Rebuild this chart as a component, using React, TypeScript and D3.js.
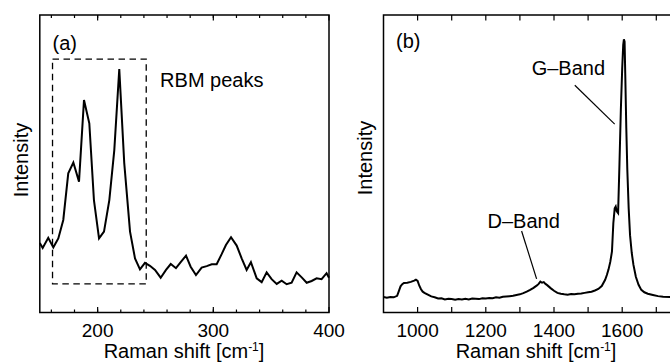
import React from "react";
import * as d3 from "d3";

// Panel (a): low-frequency Raman spectrum (RBM region)
const shiftA = [
  150, 152.5, 157.3, 161.7, 166, 170.3, 174.6, 179, 183.9, 188.2, 192.8, 196.8,
  201.2, 205.5, 210.1, 214.4, 218.7, 223, 228, 232.3, 236.6, 240.9, 245.2,
  249.6, 254.5, 259.1, 263.2, 267.7, 271.8, 276.4, 280.4, 285, 289.9, 294.3,
  298.6, 302.9, 307.2, 310.9, 315.3, 320.2, 324.5, 328.8, 332.5, 337.5, 341.8,
  346.1, 350.4, 354.8, 359.1, 363.4, 367.7, 372, 376.4, 380.7, 385, 389.3,
  393.6, 397.9, 400,
];
const intensityA = [
  23.4, 21.7, 25.1, 21.9, 24.9, 31.1, 46.8, 50.4, 44.0, 71.4, 63.6, 37.8,
  24.9, 27.2, 37.8, 54.6, 81.8, 50.2, 27.2, 18.2, 14.5, 16.7, 15.7,
  14.3, 11.7, 14.3, 16.3, 14.9, 16.9, 19.1, 15.4, 12.6, 15.1, 15.6,
  16.2, 16.2, 19.6, 22.7, 25.3, 22.5, 18.2, 14.3, 16.9, 11.5, 10.2,
  13.5, 11.2, 9.6, 10.7, 9.5, 10.0, 13.5, 11.8, 10.0, 10.6, 11.5,
  11.2, 13.2, 11.7,
];

// Panel (b): D and G band region
const shiftB = [
  900, 910, 920, 930, 940, 945, 950, 955, 960, 970, 980, 990, 995, 1000, 1005,
  1010, 1015, 1020, 1030, 1040, 1050, 1060, 1070, 1080, 1090, 1100, 1110, 1120,
  1130, 1140, 1150, 1160, 1170, 1180, 1190, 1200, 1210, 1220, 1230, 1240, 1250,
  1260, 1270, 1280, 1290, 1300, 1310, 1320, 1330, 1340, 1350, 1355, 1360, 1365,
  1370, 1375, 1380, 1390, 1400, 1410, 1420, 1430, 1440, 1450, 1460, 1470, 1480,
  1490, 1500, 1510, 1520, 1530, 1540, 1550, 1555, 1560, 1565, 1570, 1574, 1578,
  1581, 1584, 1588, 1592, 1596, 1600, 1603, 1605, 1607, 1609, 1612, 1615, 1619,
  1623, 1628, 1633, 1640, 1648, 1656, 1665, 1675, 1690, 1705, 1720, 1740, 1760,
  1780, 1800,
];
const intensityB = [
  5.2, 5.0, 5.2, 5.1, 5.6, 7.2, 8.8, 9.5, 9.9, 10.0, 10.3, 10.7, 11.0, 10.6, 9.0,
  7.8, 7.0, 6.6, 6.0, 5.4, 5.1, 4.7, 4.8, 4.4, 4.6, 4.5, 4.3, 4.5,
  4.4, 4.6, 4.4, 4.7, 4.6, 4.5, 4.8, 4.7, 4.9, 4.8, 5.1, 5.0, 5.3,
  5.4, 5.5, 5.6, 5.9, 6.1, 6.5, 7.0, 7.6, 8.3, 9.1, 9.6, 10.4, 10.0,
  10.2, 9.6, 9.2, 8.2, 7.3, 6.6, 6.3, 6.1, 6.0, 6.2, 6.1, 6.3, 6.4,
  6.6, 6.8, 7.0, 7.4, 7.9, 8.9, 11.0, 12.6, 14.5, 17.0, 20.5, 30.0, 35.0,
  35.6, 34.0, 33.4, 50.0, 68.0, 82.0, 90.0, 91.8, 91.0, 80.0, 62.0, 48.0, 35.0,
  26.0, 20.0, 16.0, 12.0, 9.3, 7.6, 6.8, 6.3, 5.9, 5.5, 5.3, 5.2, 5.1,
  5.2, 5.1,
];

const majorTicksA = [200, 300, 400];
const minorTicksA = d3.range(160, 400, 20);
const majorTicksB = [1000, 1200, 1400, 1600];
const minorTicksB = [1100, 1300, 1500, 1700];

const font = "'Liberation Sans', Arial, sans-serif";
const tickSize = 19;
const titleSize = 20;
const noteSize = 20;

export default function App() {
  const xA = d3.scaleLinear().domain([150, 400]).range([39.8, 329]);
  const yA = d3.scaleLinear().domain([0, 100]).range([312.5, 15]);
  const xB = d3.scaleLinear().domain([900, 1800]).range([383.5, 690.4]);
  const yB = d3.scaleLinear().domain([0, 100]).range([312.5, 15]);

  const lineA = d3
    .line<number>()
    .x((_, i) => xA(shiftA[i]))
    .y((d) => yA(d));
  const lineB = d3
    .line<number>()
    .x((_, i) => xB(shiftB[i]))
    .y((d) => yB(d));

  const frame = (x0: number, x1: number, y0: number, y1: number) => (
    <rect x={x0} y={y0} width={x1 - x0} height={y1 - y0} fill="none" stroke="#000" strokeWidth={1.5} />
  );

  const xTicks = (
    x: d3.ScaleLinear<number, number>,
    y: d3.ScaleLinear<number, number>,
    major: number[],
    minor: number[],
    majorLen: number,
    minorLen: number
  ) => {
    const [b, t] = y.range();
    return (
      <g stroke="#000" strokeWidth={1.2}>
        {minor.map((v) => (
          <g key={"m" + v}>
            <line x1={x(v)} x2={x(v)} y1={b} y2={b - minorLen} />
            <line x1={x(v)} x2={x(v)} y1={t} y2={t + minorLen} />
          </g>
        ))}
        {major.map((v) => (
          <g key={"M" + v}>
            <line x1={x(v)} x2={x(v)} y1={b} y2={b - majorLen} />
            <line x1={x(v)} x2={x(v)} y1={t} y2={t + majorLen} />
          </g>
        ))}
      </g>
    );
  };

  const tickLabels = (x: d3.ScaleLinear<number, number>, major: number[]) =>
    major.map((v) => (
      <text key={v} x={x(v)} y={337} textAnchor="middle" fontSize={tickSize}>
        {v}
      </text>
    ));

  const xTitle = (cx: number) => (
    <text x={cx} y={358} textAnchor="middle" fontSize={titleSize}>
      Raman shift [cm<tspan dy={-7} fontSize={12}>-1</tspan>
      <tspan dy={7}>]</tspan>
    </text>
  );

  return (
    <svg
      width={670}
      height={362}
      style={{ position: "absolute", left: 0, top: 0, background: "#fff" }}
      fontFamily={font}
    >
      <defs>
        <clipPath id="clipB">
          <rect x={383.5} y={15} width={307} height={297.5} />
        </clipPath>
      </defs>

      {/* panel (a) */}
      {xTicks(xA, yA, majorTicksA, minorTicksA, 5.5, 3)}
      <path d={lineA(intensityA) || ""} fill="none" stroke="#000" strokeWidth={2} />
      <rect
        x={xA(161)}
        y={yA(85.2)}
        width={xA(242) - xA(161)}
        height={yA(9.6) - yA(85.2)}
        fill="none"
        stroke="#000"
        strokeWidth={1.3}
        strokeDasharray="6.5,4.5"
      />
      {frame(39.8, 329, 15, 312.5)}
      {tickLabels(xA, majorTicksA)}
      {xTitle(184)}
      <text transform="translate(28,160) rotate(-90)" textAnchor="middle" fontSize={titleSize}>
        Intensity
      </text>
      <text x={xA(161)} y={50} fontSize={noteSize}>(a)</text>
      <text x={xA(254)} y={87} fontSize={noteSize}>RBM peaks</text>

      {/* panel (b) */}
      {xTicks(xB, yB, majorTicksB, minorTicksB, 5.5, 5.5)}
      <path d={lineB(intensityB) || ""} fill="none" stroke="#000" strokeWidth={2} clipPath="url(#clipB)" />
      {frame(383.5, 690.4, 15, 312.5)}
      {tickLabels(xB, majorTicksB)}
      {xTitle(536)}
      <text transform="translate(372,158) rotate(-90)" textAnchor="middle" fontSize={titleSize}>
        Intensity
      </text>
      <text x={396} y={48} fontSize={noteSize}>(b)</text>
      <text x={xB(1442)} y={75} textAnchor="middle" fontSize={noteSize}>G–Band</text>
      <line x1={xB(1461)} y1={yB(76.4)} x2={xB(1578)} y2={yB(63.3)} stroke="#000" strokeWidth={1.2} />
      <text x={xB(1311)} y={228} textAnchor="middle" fontSize={noteSize}>D–Band</text>
      <line x1={xB(1305)} y1={yB(27.4)} x2={xB(1349)} y2={yB(11.3)} stroke="#000" strokeWidth={1.2} />
    </svg>
  );
}
